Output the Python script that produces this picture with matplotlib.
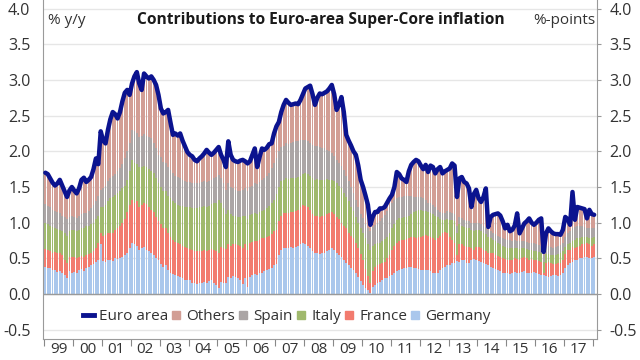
import numpy as np
import matplotlib
matplotlib.use("Agg")
import matplotlib.pyplot as plt
from matplotlib.lines import Line2D

plt.rcParams['font.family'] = ['Open Sans', 'DejaVu Sans']
plt.rcParams['axes.unicode_minus'] = False

start_year = 1999
year_labels = ["99", "00", "01", "02", "03", "04", "05", "06", "07", "08",
               "09", "10", "11", "12", "13", "14", "15", "16", "17"]

# Euro area super-core inflation, % y/y (monthly, Jan 1999 - Jan 2018)
euro_area = [
    1.70, 1.68, 1.62, 1.56, 1.52, 1.55, 1.60, 1.52, 1.44, 1.36, 1.45, 1.50,
    1.45, 1.41, 1.48, 1.60, 1.63, 1.57, 1.60, 1.64, 1.75, 1.90, 1.82, 2.28,
    2.15, 2.11, 2.30, 2.45, 2.55, 2.52, 2.46, 2.55, 2.70, 2.82, 2.86, 2.79,
    2.95, 3.05, 3.11, 2.95, 2.86, 3.09, 3.05, 3.02, 3.05, 3.00, 2.93, 2.79,
    2.60, 2.53, 2.55, 2.58, 2.40, 2.23, 2.25, 2.22, 2.25, 2.15, 2.07, 1.99,
    1.95, 1.93, 1.88, 1.86, 1.90, 1.93, 1.97, 2.02, 1.98, 1.95, 1.98, 2.02,
    2.06, 1.95, 1.88, 1.78, 2.14, 1.95, 1.88, 1.86, 1.85, 1.87, 1.88, 1.86,
    1.83, 1.86, 1.95, 2.04, 1.78, 1.92, 2.04, 2.02, 2.05, 2.10, 2.11, 2.25,
    2.35, 2.41, 2.55, 2.65, 2.72, 2.68, 2.65, 2.66, 2.67, 2.66, 2.72, 2.80,
    2.88, 2.90, 2.92, 2.80, 2.65, 2.75, 2.81, 2.80, 2.82, 2.84, 2.88, 2.93,
    2.80, 2.58, 2.65, 2.76, 2.55, 2.23, 2.15, 2.08, 2.00, 1.95, 1.80, 1.60,
    1.50, 1.38, 1.25, 0.97, 1.08, 1.15, 1.15, 1.20, 1.20, 1.22, 1.28, 1.34,
    1.39, 1.50, 1.71, 1.68, 1.62, 1.60, 1.57, 1.72, 1.81, 1.85, 1.88, 1.86,
    1.80, 1.75, 1.81, 1.71, 1.80, 1.78, 1.69, 1.75, 1.78, 1.69, 1.72, 1.74,
    1.76, 1.83, 1.80, 1.36, 1.62, 1.64, 1.57, 1.55, 1.48, 1.22, 1.40, 1.46,
    1.34, 1.29, 1.36, 1.48, 0.94, 1.08, 1.11, 1.12, 1.13, 1.10, 1.02, 0.92,
    0.97, 0.88, 0.90, 0.96, 1.13, 0.85, 0.92, 0.99, 1.02, 1.06, 1.00, 0.97,
    1.00, 1.04, 1.06, 0.59, 0.85, 0.92, 0.88, 0.85, 0.84, 0.84, 0.83, 0.90,
    1.08, 1.05, 0.97, 1.43, 1.04, 1.22, 1.21, 1.20, 1.19, 1.06, 1.18, 1.12,
    1.11,
]

# Cumulative tops of the stacked contribution bands (%-points)
germany_top = [
    0.38, 0.37, 0.36, 0.33, 0.34, 0.31, 0.32, 0.30, 0.26, 0.22, 0.32, 0.30,
    0.31, 0.29, 0.33, 0.35, 0.32, 0.36, 0.38, 0.40, 0.42, 0.45, 0.48, 0.70,
    0.46, 0.45, 0.47, 0.48, 0.46, 0.50, 0.49, 0.51, 0.52, 0.55, 0.58, 0.65,
    0.72, 0.70, 0.68, 0.62, 0.64, 0.66, 0.62, 0.60, 0.58, 0.55, 0.50, 0.47,
    0.42, 0.38, 0.40, 0.33, 0.30, 0.28, 0.26, 0.25, 0.24, 0.22, 0.20, 0.19,
    0.20, 0.16, 0.15, 0.14, 0.15, 0.16, 0.17, 0.15, 0.18, 0.20, 0.16, 0.13,
    0.09, 0.17, 0.15, 0.16, 0.24, 0.22, 0.25, 0.24, 0.23, 0.19, 0.14, 0.22,
    0.10, 0.24, 0.26, 0.28, 0.27, 0.29, 0.30, 0.32, 0.33, 0.35, 0.37, 0.40,
    0.42, 0.55, 0.62, 0.64, 0.65, 0.64, 0.66, 0.65, 0.66, 0.67, 0.70, 0.72,
    0.70, 0.68, 0.65, 0.60, 0.58, 0.57, 0.56, 0.57, 0.58, 0.60, 0.62, 0.65,
    0.62, 0.58, 0.55, 0.52, 0.48, 0.44, 0.40, 0.36, 0.33, 0.30, 0.24, 0.18,
    0.12, 0.08, 0.05, 0.02, 0.10, 0.12, 0.15, 0.17, 0.20, 0.22, 0.23, 0.25,
    0.27, 0.30, 0.32, 0.34, 0.35, 0.36, 0.37, 0.38, 0.38, 0.37, 0.36, 0.35,
    0.34, 0.34, 0.33, 0.33, 0.32, 0.30, 0.29, 0.30, 0.33, 0.36, 0.38, 0.40,
    0.41, 0.43, 0.44, 0.46, 0.45, 0.48, 0.47, 0.44, 0.43, 0.48, 0.49, 0.47,
    0.46, 0.45, 0.43, 0.42, 0.40, 0.38, 0.36, 0.35, 0.34, 0.32, 0.30, 0.29,
    0.29, 0.28, 0.30, 0.31, 0.29, 0.30, 0.31, 0.32, 0.30, 0.29, 0.30, 0.31,
    0.30, 0.28, 0.27, 0.26, 0.25, 0.24, 0.25, 0.27, 0.26, 0.25, 0.27, 0.30,
    0.36, 0.40, 0.43, 0.45, 0.47, 0.48, 0.50, 0.51, 0.52, 0.52, 0.51, 0.50,
    0.52,
]

france_top = [
    0.63, 0.62, 0.60, 0.58, 0.59, 0.57, 0.57, 0.55, 0.48, 0.43, 0.52, 0.52,
    0.52, 0.50, 0.52, 0.53, 0.52, 0.55, 0.56, 0.58, 0.60, 0.65, 0.72, 0.85,
    0.82, 0.83, 0.85, 0.86, 0.86, 0.90, 0.92, 0.95, 1.00, 1.05, 1.15, 1.25,
    1.32, 1.28, 1.30, 1.22, 1.25, 1.27, 1.26, 1.22, 1.18, 1.15, 1.08, 1.02,
    0.98, 0.92, 0.93, 0.85, 0.80, 0.76, 0.73, 0.72, 0.70, 0.68, 0.66, 0.64,
    0.63, 0.62, 0.61, 0.60, 0.60, 0.61, 0.62, 0.60, 0.62, 0.63, 0.62, 0.60,
    0.58, 0.66, 0.64, 0.63, 0.70, 0.68, 0.70, 0.70, 0.69, 0.67, 0.65, 0.70,
    0.62, 0.72, 0.73, 0.75, 0.74, 0.76, 0.78, 0.78, 0.80, 0.82, 0.84, 0.88,
    0.90, 1.02, 1.10, 1.13, 1.14, 1.13, 1.15, 1.15, 1.16, 1.18, 1.22, 1.25,
    1.24, 1.22, 1.18, 1.12, 1.10, 1.09, 1.08, 1.09, 1.10, 1.12, 1.13, 1.15,
    1.12, 1.08, 1.05, 1.00, 0.96, 0.92, 0.86, 0.82, 0.78, 0.72, 0.64, 0.56,
    0.48, 0.35, 0.25, 0.15, 0.32, 0.38, 0.40, 0.42, 0.43, 0.45, 0.50, 0.55,
    0.62, 0.68, 0.72, 0.74, 0.76, 0.76, 0.77, 0.78, 0.80, 0.80, 0.79, 0.80,
    0.80, 0.82, 0.83, 0.82, 0.80, 0.78, 0.76, 0.78, 0.82, 0.86, 0.87, 0.85,
    0.80, 0.76, 0.72, 0.55, 0.70, 0.70, 0.68, 0.66, 0.66, 0.64, 0.62, 0.66,
    0.66, 0.64, 0.62, 0.61, 0.58, 0.58, 0.57, 0.55, 0.53, 0.52, 0.50, 0.49,
    0.48, 0.47, 0.48, 0.50, 0.49, 0.48, 0.50, 0.52, 0.50, 0.48, 0.49, 0.48,
    0.47, 0.46, 0.45, 0.30, 0.44, 0.45, 0.43, 0.42, 0.42, 0.43, 0.44, 0.48,
    0.56, 0.62, 0.62, 0.66, 0.64, 0.66, 0.68, 0.70, 0.70, 0.71, 0.70, 0.68,
    0.70,
]

italy_top = [
    1.00, 0.98, 0.96, 0.94, 0.93, 0.91, 0.90, 0.88, 0.85, 0.82, 0.88, 0.90,
    0.90, 0.88, 0.90, 0.92, 0.93, 0.95, 0.96, 0.98, 1.00, 1.05, 1.10, 1.22,
    1.22, 1.25, 1.30, 1.34, 1.36, 1.39, 1.41, 1.44, 1.48, 1.52, 1.60, 1.72,
    1.88, 1.84, 1.82, 1.78, 1.78, 1.80, 1.78, 1.75, 1.72, 1.69, 1.62, 1.55,
    1.50, 1.45, 1.44, 1.38, 1.34, 1.30, 1.27, 1.25, 1.24, 1.23, 1.22, 1.22,
    1.22, 1.21, 1.20, 1.21, 1.22, 1.22, 1.23, 1.22, 1.24, 1.26, 1.27, 1.28,
    1.32, 1.28, 1.20, 1.12, 1.18, 1.12, 1.10, 1.09, 1.08, 1.08, 1.09, 1.10,
    1.05, 1.11, 1.12, 1.14, 1.12, 1.15, 1.17, 1.18, 1.20, 1.24, 1.28, 1.32,
    1.40, 1.50, 1.58, 1.60, 1.62, 1.61, 1.62, 1.63, 1.62, 1.64, 1.66, 1.68,
    1.69, 1.68, 1.66, 1.62, 1.60, 1.61, 1.60, 1.60, 1.60, 1.61, 1.60, 1.60,
    1.58, 1.55, 1.52, 1.48, 1.42, 1.36, 1.30, 1.22, 1.16, 1.08, 1.00, 0.92,
    0.86, 0.78, 0.70, 0.62, 0.68, 0.70, 0.71, 0.72, 0.74, 0.77, 0.80, 0.85,
    0.92, 0.98, 1.04, 1.06, 1.07, 1.08, 1.08, 1.10, 1.12, 1.15, 1.17, 1.18,
    1.18, 1.17, 1.16, 1.15, 1.13, 1.12, 1.10, 1.08, 1.05, 1.04, 1.04, 1.05,
    1.04, 1.04, 1.02, 0.85, 0.98, 0.96, 0.94, 0.93, 0.92, 0.90, 0.89, 0.90,
    0.90, 0.88, 0.86, 0.84, 0.80, 0.78, 0.76, 0.74, 0.72, 0.70, 0.68, 0.66,
    0.65, 0.64, 0.64, 0.65, 0.64, 0.63, 0.64, 0.65, 0.63, 0.62, 0.62, 0.61,
    0.60, 0.59, 0.58, 0.45, 0.56, 0.56, 0.55, 0.54, 0.55, 0.56, 0.57, 0.60,
    0.66, 0.70, 0.71, 0.74, 0.76, 0.78, 0.79, 0.80, 0.80, 0.80, 0.79, 0.78,
    0.80,
]

spain_top = [
    1.26, 1.24, 1.22, 1.18, 1.17, 1.15, 1.13, 1.10, 1.08, 1.05, 1.08, 1.09,
    1.08, 1.07, 1.10, 1.12, 1.13, 1.14, 1.16, 1.20, 1.25, 1.30, 1.38, 1.46,
    1.48, 1.52, 1.58, 1.63, 1.65, 1.68, 1.72, 1.76, 1.82, 1.90, 2.00, 2.12,
    2.30, 2.28, 2.25, 2.20, 2.22, 2.24, 2.22, 2.20, 2.18, 2.12, 2.04, 1.95,
    1.92, 1.85, 1.84, 1.78, 1.74, 1.70, 1.66, 1.64, 1.62, 1.60, 1.58, 1.57,
    1.57, 1.56, 1.55, 1.55, 1.56, 1.57, 1.58, 1.57, 1.59, 1.60, 1.62, 1.64,
    1.67, 1.62, 1.55, 1.46, 1.55, 1.50, 1.48, 1.46, 1.45, 1.45, 1.46, 1.48,
    1.45, 1.50, 1.52, 1.55, 1.54, 1.57, 1.60, 1.62, 1.65, 1.70, 1.76, 1.83,
    1.90, 2.00, 2.06, 2.08, 2.11, 2.10, 2.12, 2.13, 2.14, 2.15, 2.16, 2.16,
    2.16, 2.14, 2.12, 2.09, 2.07, 2.07, 2.06, 2.05, 2.04, 2.02, 2.00, 1.97,
    1.93, 1.88, 1.84, 1.80, 1.74, 1.66, 1.58, 1.50, 1.41, 1.32, 1.22, 1.12,
    1.06, 0.98, 0.92, 0.88, 0.94, 0.97, 0.99, 1.02, 1.06, 1.11, 1.16, 1.22,
    1.28, 1.32, 1.35, 1.36, 1.36, 1.37, 1.37, 1.38, 1.37, 1.36, 1.36, 1.36,
    1.36, 1.35, 1.32, 1.28, 1.27, 1.25, 1.22, 1.18, 1.15, 1.13, 1.14, 1.16,
    1.15, 1.14, 1.12, 0.95, 1.08, 1.06, 1.04, 1.03, 1.02, 1.00, 0.99, 1.00,
    1.00, 0.98, 0.96, 0.94, 0.90, 0.88, 0.86, 0.84, 0.82, 0.80, 0.78, 0.77,
    0.76, 0.76, 0.75, 0.76, 0.75, 0.74, 0.74, 0.74, 0.73, 0.72, 0.72, 0.71,
    0.70, 0.69, 0.68, 0.55, 0.66, 0.67, 0.66, 0.65, 0.66, 0.67, 0.69, 0.72,
    0.80, 0.86, 0.88, 0.92, 0.94, 0.95, 0.96, 0.95, 0.94, 0.93, 0.92, 0.92,
    0.92,
]

band_names = ["Germany", "France", "Italy", "Spain", "Others"]
band_colors = ["#aac7ec", "#f27b6e", "#a0b96d", "#aba5a5", "#d29e95"]
line_color = "#0b138f"

fig = plt.figure(figsize=(6.4, 3.6), dpi=100)
ax = fig.add_axes([43 / 640, 1 - 339 / 360, (597 - 43) / 640, 339 / 360])

n = len(euro_area)
x = start_year + (np.arange(n) + 0.5) / 12
bw = 0.75 / 12

tops = [germany_top, france_top, italy_top, spain_top, euro_area]
bottom = np.zeros(n)
for name, top, col in zip(band_names, tops, band_colors):
    top = np.asarray(top, dtype=float)
    ax.bar(x, top - bottom, bottom=bottom, width=bw, color=col,
           linewidth=0, zorder=2)
    bottom = top

ax.plot(x, euro_area, color=line_color, lw=3.2, zorder=4,
        solid_joinstyle='round', solid_capstyle='round')
ax.axhline(0, color="#9a9a9a", lw=1, zorder=3)

ax.set_xlim(1998.96, 2018.14)
ax.set_ylim(-0.63, 4.12)
yt = np.arange(-0.5, 4.01, 0.5)
ax.set_yticks(yt)
ax.set_yticklabels([f"{v:.1f}" for v in yt])
ax.yaxis.grid(True, color="#e6e6e6", lw=1)
ax.set_axisbelow(True)

years = np.arange(start_year, start_year + len(year_labels) + 1)
ax.set_xticks(years)
ax.set_xticklabels([])
ax.set_xticks(np.arange(start_year, start_year + len(year_labels)) + 0.5, minor=True)
ax.set_xticklabels(year_labels, minor=True)
ax.tick_params(axis='x', which='major', length=5, color="#888888", direction='out')
ax.tick_params(axis='x', which='minor', length=0, pad=2.5, labelsize=11,
               labelcolor="#333333")
ax.tick_params(axis='y', which='both', left=False, right=True, labelleft=True,
               labelright=True, length=3, color="#999999", labelsize=11.5,
               labelcolor="#333333", pad=6)

for s in ["left", "right", "bottom"]:
    ax.spines[s].set_color("#9a9a9a")
ax.spines["top"].set_visible(False)

fig.text(321 / 640, 1 - 20.5 / 360, "Contributions to Euro-area Super-Core inflation",
         ha='center', va='center', fontsize=11.2, fontweight='bold', color="#1a1a1a")
fig.text(48 / 640, 1 - 20.5 / 360, "% y/y", ha='left', va='center', fontsize=11,
         color="#333333")
fig.text(595 / 640, 1 - 20.5 / 360, "%-points", ha='right', va='center', fontsize=11,
         color="#333333")

handles = [Line2D([], [], color=line_color, lw=3.5)]
labels = ["Euro area"]
for name, col in zip(band_names[::-1], band_colors[::-1]):
    handles.append(Line2D([], [], marker='s', ls='none', color=col, markersize=6))
    labels.append(name)
leg = ax.legend(handles, labels, loc='center', bbox_to_anchor=(0.44, 0.066),
                ncol=6, frameon=False, fontsize=11, handlelength=0.75,
                handletextpad=0.3, columnspacing=0.15, borderaxespad=0)
for t in leg.get_texts():
    t.set_color("#333333")

fig.savefig("out.png", dpi=100)
